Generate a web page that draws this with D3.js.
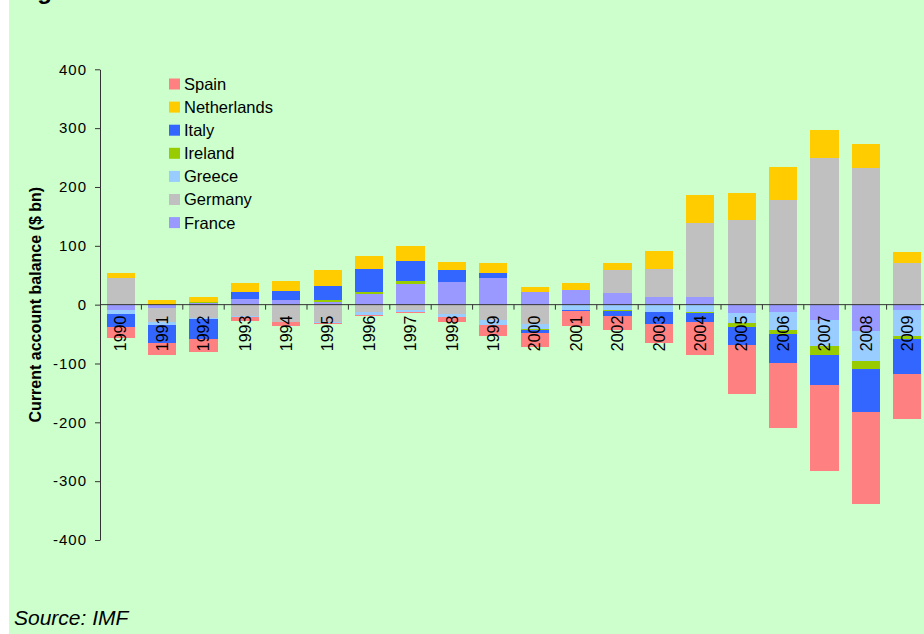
<!DOCTYPE html>
<html>
<head>
<meta charset="utf-8">
<script src="https://cdn.jsdelivr.net/npm/d3@7"></script>
<style>
  html, body { margin: 0; padding: 0; background: #ffffff; }
  svg { display: block; font-family: "Liberation Sans", Arial, sans-serif; }
</style>
</head>
<body>
<svg id="chart" width="924" height="634"></svg>
<script>
// 年（カテゴリ）
const years = ["1990","1991","1992","1993","1994","1995","1996","1997","1998","1999",
               "2000","2001","2002","2003","2004","2005","2006","2007","2008","2009"];

// 各国の経常収支 ($ bn)
const france      = [-9.1, -5.7, 2, 9.1, 7.4, 5.1, 18.1, 35.7, 38, 44.8, 21, 24.9, 19.3, 12.5, 12.5, -14.7, -13, -26.6, -45.4, -9.6];
const germany     = [45.4, -24.4, -22.7, -19.8, -30, -29.5, -13, -9.6, -16.4, -26.6, -32.9, 0, 39.1, 47.6, 125.8, 144, 178, 248.9, 233, 70.3];
const greece      = [-6.8, -5.1, -2.3, -1.7, 0, -1.7, -5.1, -2.8, -5.1, -8.5, -8.5, -9.6, -9.1, -13, -13, -17, -30.6, -44.2, -51, -44.3];
const ireland     = [0, 0, 2.3, 0, 0, 2.3, 2.9, 4, 0, 0, -1.7, 0, -1.7, 0, -1.7, -6.8, -6.2, -15.4, -13.6, -5.1];
const italy       = [-22.7, -30.6, -34, 11.9, 15.3, 23.8, 39.1, 34, 20.4, 8.5, -5.7, -1.7, -8.5, -20.4, -14.7, -30.6, -49.9, -51, -73.2, -59.5];
const netherlands = [8, 7.4, 8.5, 15.3, 17, 27.2, 22.1, 25.5, 13.6, 17, 8.5, 11.4, 11.9, 30.6, 47.7, 45.4, 55.6, 47.6, 39.7, 18.7];
const spain       = [-18.1, -19.8, -21.5, -6.2, -6.2, -1.7, -1.7, -1.7, -7.9, -18.1, -23.8, -24.9, -23.8, -32.3, -56.7, -82.8, -110.6, -146.3, -154.8, -76.5];

// 系列名（積み上げ順：ゼロに近い方から）
const seriesNames = ["France", "Germany", "Greece", "Ireland", "Italy", "Netherlands", "Spain"];
const seriesValues = [france, germany, greece, ireland, italy, netherlands, spain];
const seriesColors = ["#9999FF", "#C0C0C0", "#99CCFF", "#99CC00", "#3366FF", "#FFCC00", "#FF8080"];

// y軸の目盛り
const yTicks = [-400, -300, -200, -100, 0, 100, 200, 300, 400];

const svg = d3.select("#chart");

// 背景
svg.append("rect").attr("x", 9).attr("y", 0).attr("width", 915).attr("height", 634).attr("fill", "#CCFFCC");

// 上で切れているタイトル（元画像でも切れている）
svg.append("text").attr("x", 16).attr("y", -1)
  .attr("font-size", 24).attr("font-weight", "bold").attr("fill", "#000").text("Figure");

// 積み上げ用のテーブル
const table = years.map((yr, i) => {
  const row = { year: yr };
  seriesNames.forEach((n, j) => { row[n] = seriesValues[j][i]; });
  return row;
});

const stacked = d3.stack()
  .keys(seriesNames)
  .offset(d3.stackOffsetDiverging)(table);

const x = d3.scaleBand()
  .domain(years)
  .range([100, 928])
  .paddingInner(0.32)
  .paddingOuter(0.16);

const y = d3.scaleLinear()
  .domain([-400, 400])
  .range([540, 69.3]);

// バー
svg.append("g").selectAll("g")
  .data(stacked)
  .join("g")
  .attr("fill", (d, i) => seriesColors[i])
  .selectAll("rect")
  .data(d => d)
  .join("rect")
  .attr("x", d => x(d.data.year))
  .attr("y", d => y(d[1]))
  .attr("width", x.bandwidth())
  .attr("height", d => Math.max(0, y(d[0]) - y(d[1])))
  .attr("shape-rendering", "crispEdges");

// y軸
const yAxis = svg.append("g")
  .attr("transform", "translate(100,0)")
  .call(d3.axisLeft(y).tickValues(yTicks).tickFormat(d => String(d))
    .tickSize(5).tickSizeOuter(0).tickPadding(8));
yAxis.select(".domain").attr("stroke", "#333");
yAxis.selectAll(".tick line").attr("stroke", "#333");
yAxis.selectAll(".tick text")
  .attr("font-size", 15).attr("letter-spacing", "1px").attr("fill", "#000")
  .attr("font-family", "Liberation Sans, Arial, sans-serif");

// x軸（ゼロの位置）
const y0 = y(0);
svg.append("line")
  .attr("x1", 100).attr("x2", 924).attr("y1", y0).attr("y2", y0)
  .attr("stroke", "#333").attr("stroke-width", 1);

// カテゴリ境界の目盛り
svg.append("g").selectAll("line")
  .data(years.slice(1))
  .join("line")
  .attr("x1", d => x(d) - x.step() * 0.16)
  .attr("x2", d => x(d) - x.step() * 0.16)
  .attr("y1", y0).attr("y2", y0 + 5)
  .attr("stroke", "#333");

// 年のラベル（縦書き）
svg.append("g").selectAll("text")
  .data(years)
  .join("text")
  .attr("transform", d => `translate(${x(d) + x.bandwidth() / 2},${y0 + 11}) rotate(-90)`)
  .attr("text-anchor", "end")
  .attr("dy", "0.35em")
  .attr("font-size", 16)
  .attr("fill", "#000")
  .text(d => d);

// y軸タイトル
svg.append("text")
  .attr("transform", `translate(35,${y0}) rotate(-90)`)
  .attr("text-anchor", "middle")
  .attr("dy", "0.35em")
  .attr("font-size", 16)
  .attr("font-weight", "bold")
  .attr("fill", "#000")
  .text("Current account balance ($ bn)");

// 凡例（逆順）
const legend = svg.append("g").attr("transform", "translate(169,84)");
const legendOrder = seriesNames.map((n, i) => i).reverse();
legendOrder.forEach((idx, k) => {
  const g = legend.append("g").attr("transform", `translate(0,${k * 23.1})`);
  g.append("rect").attr("x", 0).attr("y", -5.5).attr("width", 11).attr("height", 11)
    .attr("fill", seriesColors[idx]);
  g.append("text").attr("x", 15).attr("dy", "0.36em")
    .attr("font-size", 16.5).attr("fill", "#000").text(seriesNames[idx]);
});

// 出典
svg.append("text")
  .attr("x", 14).attr("y", 625)
  .attr("font-size", 21).attr("font-style", "italic").attr("fill", "#000")
  .text("Source: IMF");
</script>
</body>
</html>
